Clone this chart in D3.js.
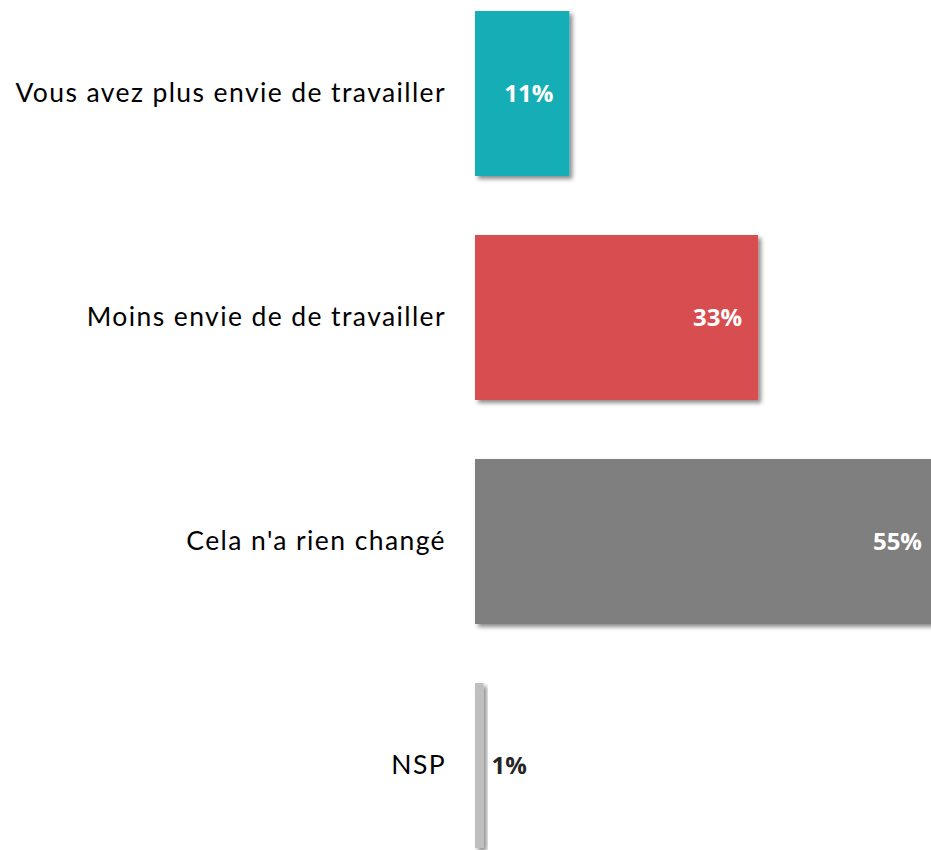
<!DOCTYPE html>
<html><head><meta charset="utf-8">
<script src="https://cdn.jsdelivr.net/npm/d3@7"></script>
<style>html,body{margin:0;padding:0;background:#fff;overflow:hidden}</style>
</head><body>
<svg id="c" width="931" height="850"></svg>
<script>
const categories = ["Vous avez plus envie de travailler","Moins envie de de travailler","Cela n'a rien changé","NSP"];
const values = [11, 33, 55, 1];
const colors = ["#14AEB6","#D84D4F","#7F7F7F","#BFBFBF"];
const labelColors = ["#ffffff","#ffffff","#ffffff","#262626"];

const W = 931, H = 850;
const svg = d3.select("#c");
const defs = svg.append("defs");
const f = defs.append("filter").attr("id","sh").attr("x","-20%").attr("y","-20%").attr("width","160%").attr("height","160%");
f.append("feDropShadow").attr("dx",3).attr("dy",3).attr("stdDeviation",2.2).attr("flood-color","#000").attr("flood-opacity",0.45);

const x = d3.scaleLinear().domain([0, 100]).range([475, 475 + 858]);
const p = 59/224;
const y = d3.scaleBand().domain(categories).range([-18.5, 877.5]).paddingInner(p).paddingOuter(p/2);

const g = svg.append("g");
g.selectAll("rect").data(values).join("rect")
  .attr("x", x(0))
  .attr("y", (d,i)=>y(categories[i]))
  .attr("width", d=>x(d)-x(0))
  .attr("height", y.bandwidth())
  .attr("fill", (d,i)=>colors[i])
  .attr("filter","url(#sh)");

svg.selectAll("text.cat").data(categories).join("text").attr("class","cat")
  .attr("x", 446)
  .attr("y", d=>y(d)+y.bandwidth()/2 - 2)
  .attr("text-anchor","end")
  .attr("dominant-baseline","central")
  .attr("font-family","Lato, 'Open Sans', sans-serif")
  .attr("font-size", 26.5)
  .attr("letter-spacing", 1.4)
  .attr("fill","#000")
  .text(d=>d);

svg.selectAll("text.val").data(values).join("text").attr("class","val")
  .attr("x", d => d < 5 ? x(d) + 8 : Math.min(x(d) - 16, 922))
  .attr("y", (d,i)=>y(categories[i])+y.bandwidth()/2 - 1)
  .attr("text-anchor", d => d < 5 ? "start" : "end")
  .attr("dominant-baseline","central")
  .attr("font-family","'Open Sans', Lato, sans-serif")
  .attr("font-weight","bold")
  .attr("font-size", 24)
  .attr("fill", (d,i)=>labelColors[i])
  .text(d=>d+"%");
</script>
</body></html>
